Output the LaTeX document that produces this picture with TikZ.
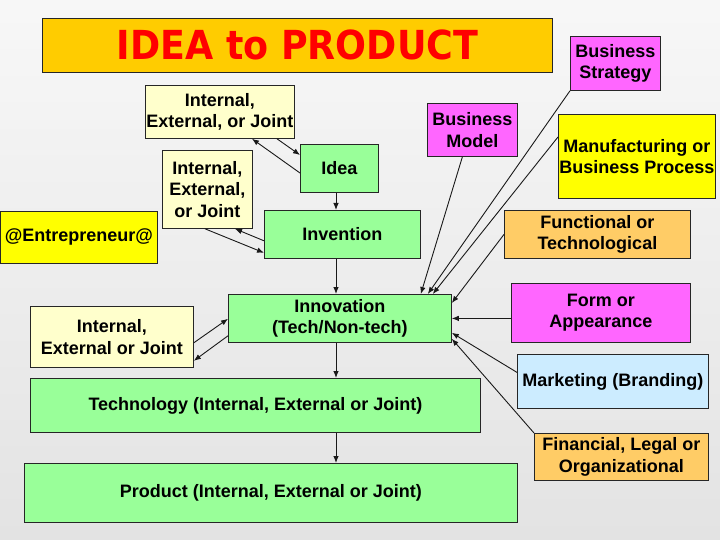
\documentclass[tikz,border=0pt]{standalone}
\usepackage{fontspec}
\setmainfont{Liberation Sans}
\newfontfamily\titlefont{DejaVu Sans}
\usetikzlibrary{arrows.meta}

\definecolor{titlebg}{HTML}{FFCC00}
\definecolor{pinkbox}{HTML}{FF66FF}
\definecolor{yellowbox}{HTML}{FFFF00}
\definecolor{creambox}{HTML}{FFFFCC}
\definecolor{greenbox}{HTML}{99FF99}
\definecolor{orangebox}{HTML}{FFCC66}
\definecolor{bluebox}{HTML}{CCECFF}

\tikzset{
  box/.style={draw=black!85, line width=0.8pt, anchor=north west, align=center,
    inner sep=1pt, font=\bfseries\fontsize{18}{21.5}\selectfont},
  link/.style={->, line width=0.9pt, black!90}
}

\begin{document}
\begin{tikzpicture}[x=1pt,y=-1pt,>={Latex[length=7pt,width=5.5pt]}]
        % page and background
        \useasboundingbox (0,0) rectangle (720,540);
        \fill[top color=white!97!black, bottom color=white!89!black] (0,0) rectangle (720,540);

        % title bar
        \node[box, fill=titlebg, minimum width=510, minimum height=54] (title) at (42,18)
            {\titlefont\bfseries\fontsize{40}{40}\selectfont\color{red}\scalebox{0.91}[1]{IDEA to PRODUCT}};

        % all the boxes: name/x/y/width/height/colour/text
        \foreach \n/\x/\y/\w/\h/\c/\t in {
            strat/570/36/90/54/pinkbox/{Business\\Strategy},
            iejone/145/85/148/53/creambox/{Internal,\\External, or Joint},
            model/427/103/90/53/pinkbox/{Business\\Model},
            manuf/558/114/157/84/yellowbox/{Manufacturing or\\Business Process},
            iejtwo/162/150/90/78/creambox/{Internal,\\External,\\or Joint},
            idea/300/144/78/48/greenbox/{Idea},
            entre/0/211/157/52/yellowbox/{@Entrepreneur@},
            invent/264/210/156/48/greenbox/{Invention},
            funct/504/210/186/48/orangebox/{Functional or\\Technological},
            iejthree/30/306/163/61/creambox/{Internal,\\External or Joint},
            innov/228/294/223/48/greenbox/{Innovation\\(Tech/Non-tech)},
            form/511/283/179/59/pinkbox/{Form or\\Appearance},
            market/517/354/191/54/bluebox/{Marketing (Branding)},
            tech/30/378/450/54/greenbox/{Technology (Internal, External or Joint)},
            finance/534/433/174/47/orangebox/{Financial, Legal or\\Organizational},
            product/24/463/493/59/greenbox/{Product (Internal, External or Joint)}}
                \node[box, fill=\c, minimum width=\w, minimum height=\h] (\n) at (\x,\y) {\t};

        % main chain down the middle
        \coordinate (spine) at (336,0);
        \foreach \a/\b in {idea/invent, invent/innov, innov/tech, tech/product}
                \draw[link] (\a.south -| spine) -- (\b.north -| spine);

        % two-way links with the partner boxes
        \draw[link] ([xshift=132pt]iejone.south west) -- ([yshift=-11pt]idea.north west);
        \draw[link] ([yshift=-29pt]idea.north west) -- ([xshift=107pt]iejone.south west);
        \draw[link] ([xshift=43pt]iejtwo.south west) -- ([yshift=6pt]invent.south west);
        \draw[link] ([yshift=18pt]invent.south west) -- ([xshift=73pt]iejtwo.south west);
        \draw[link] ([yshift=25pt]iejthree.south east) -- ([yshift=24pt]innov.south west);
        \draw[link] ([yshift=7pt]innov.south west) -- ([yshift=7pt]iejthree.south east);

        % everything on the right feeds innovation
        \draw[link] ([xshift=-10pt]model.south) -- ([xshift=-31pt]innov.north east);
        \draw[link] (strat.south west) -- ([xshift=-24pt]innov.north east);
        \draw[link] ([yshift=-23pt]manuf.north west) -- ([xshift=-19pt]innov.north east);
        \draw[link] (funct.west) -- ([yshift=-9pt]innov.north east);
        \draw[link] (form.west |- innov.east) -- (innov.east);
        \draw[link] ([yshift=9pt]market.west) -- ([yshift=10pt]innov.south east);
        \draw[link] (finance.north west) -- ([yshift=4pt]innov.south east);
\end{tikzpicture}
\end{document}
